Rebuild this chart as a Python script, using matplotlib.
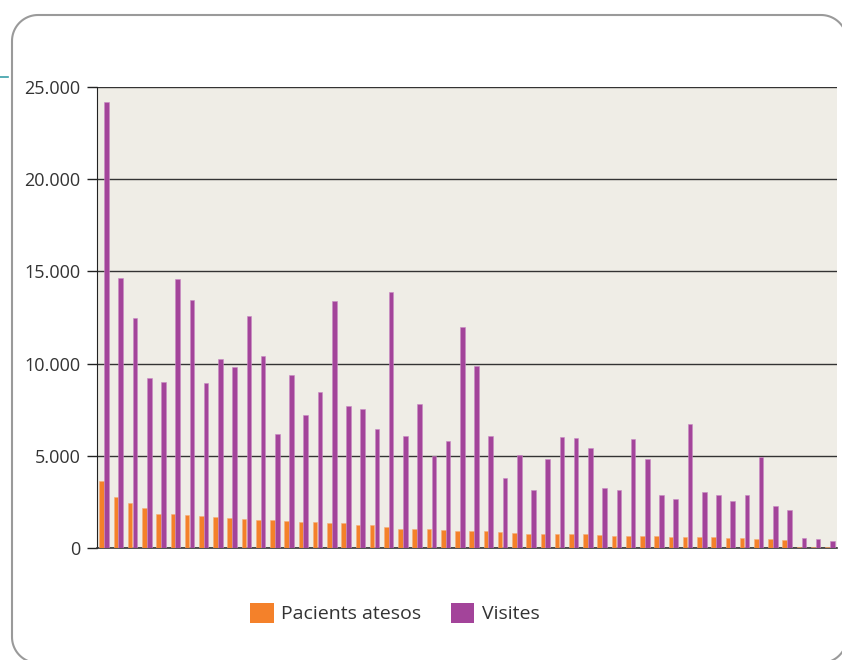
import matplotlib
matplotlib.use("Agg")
import matplotlib.pyplot as plt
import numpy as np
from matplotlib.patches import Patch
from matplotlib.ticker import FuncFormatter

plt.rcParams['font.family'] = ['Open Sans', 'DejaVu Sans']

series_names = ["Pacients atesos", "Visites"]
pacients = [3610, 2780, 2450, 2170, 1820, 1820, 1790, 1750, 1660, 1625, 1590, 1530, 1500,
            1460, 1425, 1400, 1330, 1330, 1245, 1245, 1150, 1045, 1045, 1030, 990, 940,
            940, 900, 865, 810, 775, 775, 775, 775, 740, 710, 665, 665, 665, 665, 610,
            610, 575, 575, 540, 540, 485, 485, 450, 60, 60, 60]
visites = [24200, 14620, 12480, 9230, 8980, 14590, 13450, 8930, 10260, 9810, 12560, 10420,
           6200, 9370, 7230, 8450, 13420, 7720, 7530, 6480, 13870, 6070, 7820, 4980, 5810,
           12000, 9890, 6100, 3790, 5050, 3160, 4850, 6030, 5970, 5430, 3250, 3140, 5900,
           4850, 2900, 2650, 6730, 3010, 2850, 2560, 2900, 4950, 2290, 2075, 540, 490, 400]
yticks = [0, 5000, 10000, 15000, 20000, 25000]

W, H = 842, 660
fig = plt.figure(figsize=(W / 100, H / 100), dpi=100)
fig.patch.set_facecolor("white")

# decoration layer in pixel coordinates (y upwards)
deco = fig.add_axes([0, 0, 1, 1], zorder=-1)
deco.set_xlim(0, W)
deco.set_ylim(0, H)
deco.axis("off")


def rounded_rect(x0, y0, x1, y1, r):
    t = np.linspace(0, np.pi / 2, 20)
    xs, ys = [], []
    # top-right, top-left, bottom-left, bottom-right corners
    for cx, cy, a0 in [(x1 - r, y1 - r, 0), (x0 + r, y1 - r, np.pi / 2),
                       (x0 + r, y0 + r, np.pi), (x1 - r, y0 + r, 1.5 * np.pi)]:
        xs.extend(cx + r * np.cos(a0 + t))
        ys.extend(cy + r * np.sin(a0 + t))
    xs.append(xs[0])
    ys.append(ys[0])
    return xs, ys


fx, fy = rounded_rect(12, H - 663, 847, H - 15, 26)
deco.plot(fx, fy, color="#9a9a9a", linewidth=1.5, clip_on=False)
deco.plot([0, 8], [H - 77, H - 77], color="#3aa0a8", linewidth=1.2, clip_on=False)

ax = fig.add_axes([97 / W, 1 - 548 / H, (837 - 97) / W, (548 - 87) / H])
ax.set_facecolor("#efede6")

orange = "#f4812a"
purple = "#a3449a"
n = len(visites)
x = np.arange(n)
bw = 0.32
ax.bar(x - 0.17, pacients, width=bw, color=orange, edgecolor="#f6b07a", linewidth=0.4, zorder=3)
ax.bar(x + 0.17, visites, width=bw, color=purple, edgecolor="#c98ac3", linewidth=0.4, zorder=3)

ax.set_xlim(-0.5, n - 0.5)
ax.set_ylim(0, 25000)
ax.set_yticks(yticks)
ax.yaxis.set_major_formatter(FuncFormatter(lambda v, p: f"{int(v):,}".replace(",", ".")))
ax.set_xticks([])
ax.grid(axis="y", color="#333333", linewidth=1.0, zorder=1)
ax.set_axisbelow(True)
for s in ["top", "right"]:
    ax.spines[s].set_visible(False)
ax.spines["left"].set_color("#222222")
ax.spines["bottom"].set_color("#333333")
ax.spines["bottom"].set_linewidth(1.2)
ax.tick_params(axis="y", direction="out", length=7, width=1, color="#222222",
               labelsize=13, labelcolor="#333333", pad=5)

handles = [Patch(facecolor=orange, edgecolor="none"), Patch(facecolor=purple, edgecolor="none")]
fig.legend(handles, series_names, loc="center", bbox_to_anchor=(395 / W, 1 - 613 / H),
           ncol=2, frameon=False, fontsize=14, handlelength=1.2, handleheight=1.2,
           handletextpad=0.4, columnspacing=1.5, labelcolor="#333333")

fig.savefig("out.png", dpi=100)
